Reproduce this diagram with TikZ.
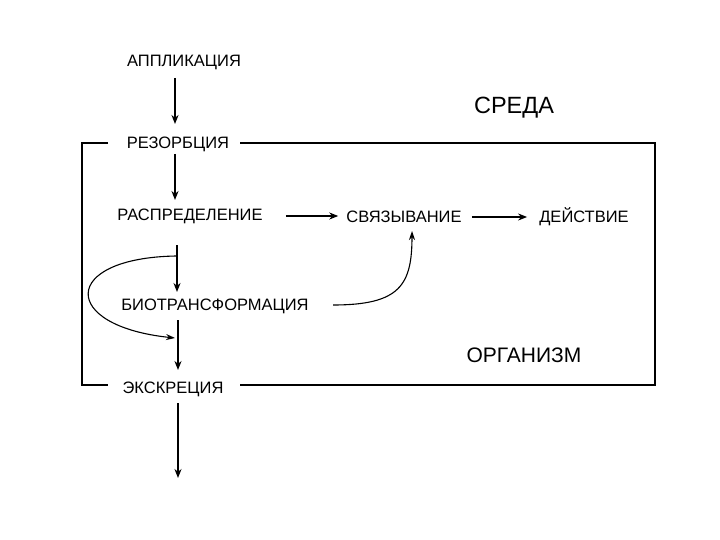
\documentclass[tikz,border=0pt]{standalone}
\usepackage{fontspec}
\setmainfont{Liberation Sans}
\usetikzlibrary{arrows.meta}
\begin{document}
\begin{tikzpicture}[x=1pt,y=-1pt,
  lbl/.style={inner sep=0pt,font=\fontsize{16.5}{19}\selectfont},
  big/.style={inner sep=0pt,font=\fontsize{23.5}{27}\selectfont},
  mid/.style={inner sep=0pt,font=\fontsize{21}{25}\selectfont},
  arr/.style={line width=1.8pt,-{Stealth[length=9pt,width=7pt]}},
  thin/.style={line width=1.1pt,-{Stealth[length=9pt,width=6pt]}},
  frame/.style={line width=1.8pt}]
\useasboundingbox (0,0) rectangle (720,540);
\fill[white] (0,0) rectangle (720,540);
% labels
\node[lbl] (app) at (184,62) {АППЛИКАЦИЯ};
\node[lbl] (rez) at (178,144) {РЕЗОРБЦИЯ};
\node[lbl] (rasp) at (190,216) {РАСПРЕДЕЛЕНИЕ};
\node[lbl] (svy) at (404,217) {СВЯЗЫВАНИЕ};
\node[lbl] (dei) at (584,217) {ДЕЙСТВИЕ};
\node[lbl] (bio) at (215,306) {БИОТРАНСФОРМАЦИЯ};
\node[lbl] (eks) at (173,389) {ЭКСКРЕЦИЯ};
\node[big] (sreda) at (514,108) {СРЕДА};
\node[mid] (org) at (524,355) {ОРГАНИЗМ};
% frame
\coordinate (tl) at (82,143);
\coordinate (tr) at (655,143);
\coordinate (bl) at (82,385);
\coordinate (br) at (655,385);
\coordinate (t1) at (108,143);
\coordinate (t2) at (240,143);
\coordinate (b1) at (108,385);
\coordinate (b2) at (240,385);
\draw[frame] (t1) -- (tl) -- (bl) -- (b1);
\draw[frame] (t2) -- (tr) -- (br) -- (b2);
% vertical arrows
\coordinate (a1s) at (175,78);  \coordinate (a1e) at (175,124);
\coordinate (a2s) at (175,154); \coordinate (a2e) at (175,200);
\coordinate (a3s) at (177,245); \coordinate (a3e) at (177,292);
\coordinate (a4s) at (178,320); \coordinate (a4e) at (178,370);
\coordinate (a5s) at (178,403); \coordinate (a5e) at (178,478);
\draw[arr] (a1s) -- (a1e);
\draw[arr] (a2s) -- (a2e);
\draw[arr] (a3s) -- (a3e);
\draw[arr] (a4s) -- (a4e);
\draw[arr] (a5s) -- (a5e);
% horizontal arrows
\draw[arr] ([xshift=23pt]rasp.east) -- ([xshift=-8pt]rasp.east -| svy.west);
\draw[arr] ([xshift=10pt]svy.east) -- ([xshift=-12pt]svy.east -| dei.west);
% curves
\coordinate (c1s) at (176,256);
\coordinate (c1e) at (175,338);
\draw[thin] (c1s) .. controls (60,258) and (60,326) .. (c1e);
\coordinate (c2s) at (333,305);
\coordinate (c2e) at (412,231);
\draw[thin] (c2s) .. controls (400,305) and (412,285) .. (c2e);
\end{tikzpicture}
\end{document}
